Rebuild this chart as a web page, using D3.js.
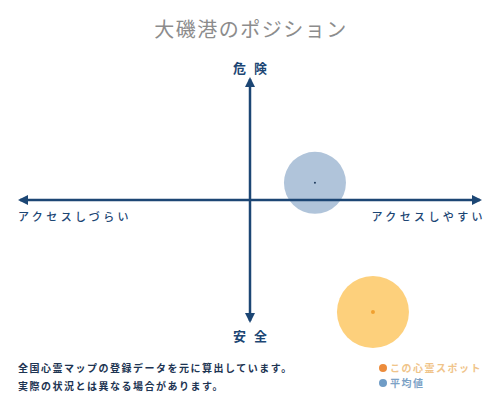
<!DOCTYPE html>
<html>
<head>
<meta charset="utf-8">
<script src="https://cdn.jsdelivr.net/npm/d3@7"></script>
<style>
    body { margin: 0; background: #fff; }
    text { font-family: "Noto Sans CJK JP", sans-serif; }
</style>
</head>
<body>
<div id="chart"></div>
<script>
    // data
    let series = ["この心霊スポット", "平均値"];
    let accessValues = [0.53, 0.28];   // -1 = hard to reach, 1 = easy
    let dangerValues = [-0.91, 0.14];  // -1 = safe, 1 = dangerous
    let sizeValues = [36, 31];
    let fills = ["#fdd07c", "#b0c4da"];
    let dotColors = ["#f0a030", "#1d3a5c"];
    let legendColors = ["#ec8c3c", "#6f9cc6"];
    let legendText = ["#f0c48a", "#7da2c6"];
    let axisLabels = { top: "危険", bottom: "安全", left: "アクセスしづらい", right: "アクセスしやすい" };
    let notes = ["全国心霊マップの登録データを元に算出しています。", "実際の状況とは異なる場合があります。"];

    let width = 500, height = 400;
    let navy = "#1c4674";

    let svg = d3.select("#chart")
        .append("svg")
        .attr("width", width)
        .attr("height", height);

    // title
    svg.append("text")
        .attr("x", 251)
        .attr("y", 37)
        .attr("text-anchor", "middle")
        .style("font-size", "20px")
        .style("letter-spacing", "1.5px")
        .style("fill", "#8c8c8c")
        .text("大磯港のポジション");

    let x = d3.scaleLinear().domain([-1, 1]).range([18, 482]);
    let y = d3.scaleLinear().domain([-1, 1]).range([323, 77]);
    let r = d3.scaleLinear().domain([0, 36]).range([0, 36]);

    // arrow markers
    let defs = svg.append("defs");
    defs.append("marker")
        .attr("id", "arrow")
        .attr("viewBox", "0 0 10 10")
        .attr("refX", 8)
        .attr("refY", 5)
        .attr("markerWidth", 4)
        .attr("markerHeight", 4)
        .attr("orient", "auto-start-reverse")
        .append("path")
        .attr("d", "M0,0 L10,5 L0,10 z")
        .attr("fill", navy);

    // circles first so the axes draw on top
    let idx = d3.range(series.length).reverse();
    svg.selectAll(".bubble")
        .data(idx)
        .join("circle")
        .attr("class", "bubble")
        .attr("cx", i => x(accessValues[i]))
        .attr("cy", i => y(dangerValues[i]))
        .attr("r", i => r(sizeValues[i]))
        .attr("fill", i => fills[i]);

    // axes
    svg.append("line")
        .attr("x1", x(-1) + 2).attr("x2", x(1) - 2)
        .attr("y1", y(0)).attr("y2", y(0))
        .attr("stroke", navy)
        .attr("stroke-width", 2.5)
        .attr("marker-start", "url(#arrow)")
        .attr("marker-end", "url(#arrow)");

    svg.append("line")
        .attr("x1", x(0)).attr("x2", x(0))
        .attr("y1", y(1) + 2).attr("y2", y(-1) - 2)
        .attr("stroke", navy)
        .attr("stroke-width", 2.5)
        .attr("marker-start", "url(#arrow)")
        .attr("marker-end", "url(#arrow)");

    // centre dots
    svg.selectAll(".dot")
        .data(idx)
        .join("circle")
        .attr("class", "dot")
        .attr("cx", i => x(accessValues[i]))
        .attr("cy", i => y(dangerValues[i]))
        .attr("r", i => i == 0 ? 2 : 1)
        .attr("fill", i => dotColors[i]);

    // axis labels (letter-spacing adds a trailing gap, so shift by half of it)
    svg.append("text")
        .attr("x", x(0) + 4).attr("y", 73)
        .attr("text-anchor", "middle")
        .style("font-size", "13px").style("font-weight", "bold")
        .style("letter-spacing", "8px")
        .style("fill", navy)
        .text(axisLabels.top);

    svg.append("text")
        .attr("x", x(0) + 4).attr("y", 341)
        .attr("text-anchor", "middle")
        .style("font-size", "13px").style("font-weight", "bold")
        .style("letter-spacing", "8px")
        .style("fill", navy)
        .text(axisLabels.bottom);

    svg.append("text")
        .attr("x", 18).attr("y", 221)
        .style("font-size", "11px").style("letter-spacing", "3.4px")
        .style("font-weight", 500)
        .style("fill", navy)
        .text(axisLabels.left);

    svg.append("text")
        .attr("x", 486).attr("y", 221)
        .attr("text-anchor", "end")
        .style("font-size", "11px").style("letter-spacing", "3.4px")
        .style("font-weight", 500)
        .style("fill", navy)
        .text(axisLabels.right);

    // footnote
    svg.selectAll(".note")
        .data(notes)
        .join("text")
        .attr("class", "note")
        .attr("x", 18)
        .attr("y", (d, i) => 372 + i * 18)
        .style("font-size", "10px").style("font-weight", "bold")
        .style("letter-spacing", "1.5px")
        .style("fill", "#1d3452")
        .text(d => d);

    // legend
    let legend = svg.selectAll(".legend")
        .data(series)
        .join("g")
        .attr("class", "legend")
        .attr("transform", (d, i) => `translate(383, ${368 + i * 15})`);

    legend.append("circle")
        .attr("r", 4)
        .attr("fill", (d, i) => legendColors[i]);

    legend.append("text")
        .attr("x", 7)
        .attr("dy", "0.35em")
        .style("font-size", "10px").style("font-weight", "bold")
        .style("letter-spacing", "1.5px")
        .style("fill", (d, i) => legendText[i])
        .text(d => d);
</script>
</body>
</html>
